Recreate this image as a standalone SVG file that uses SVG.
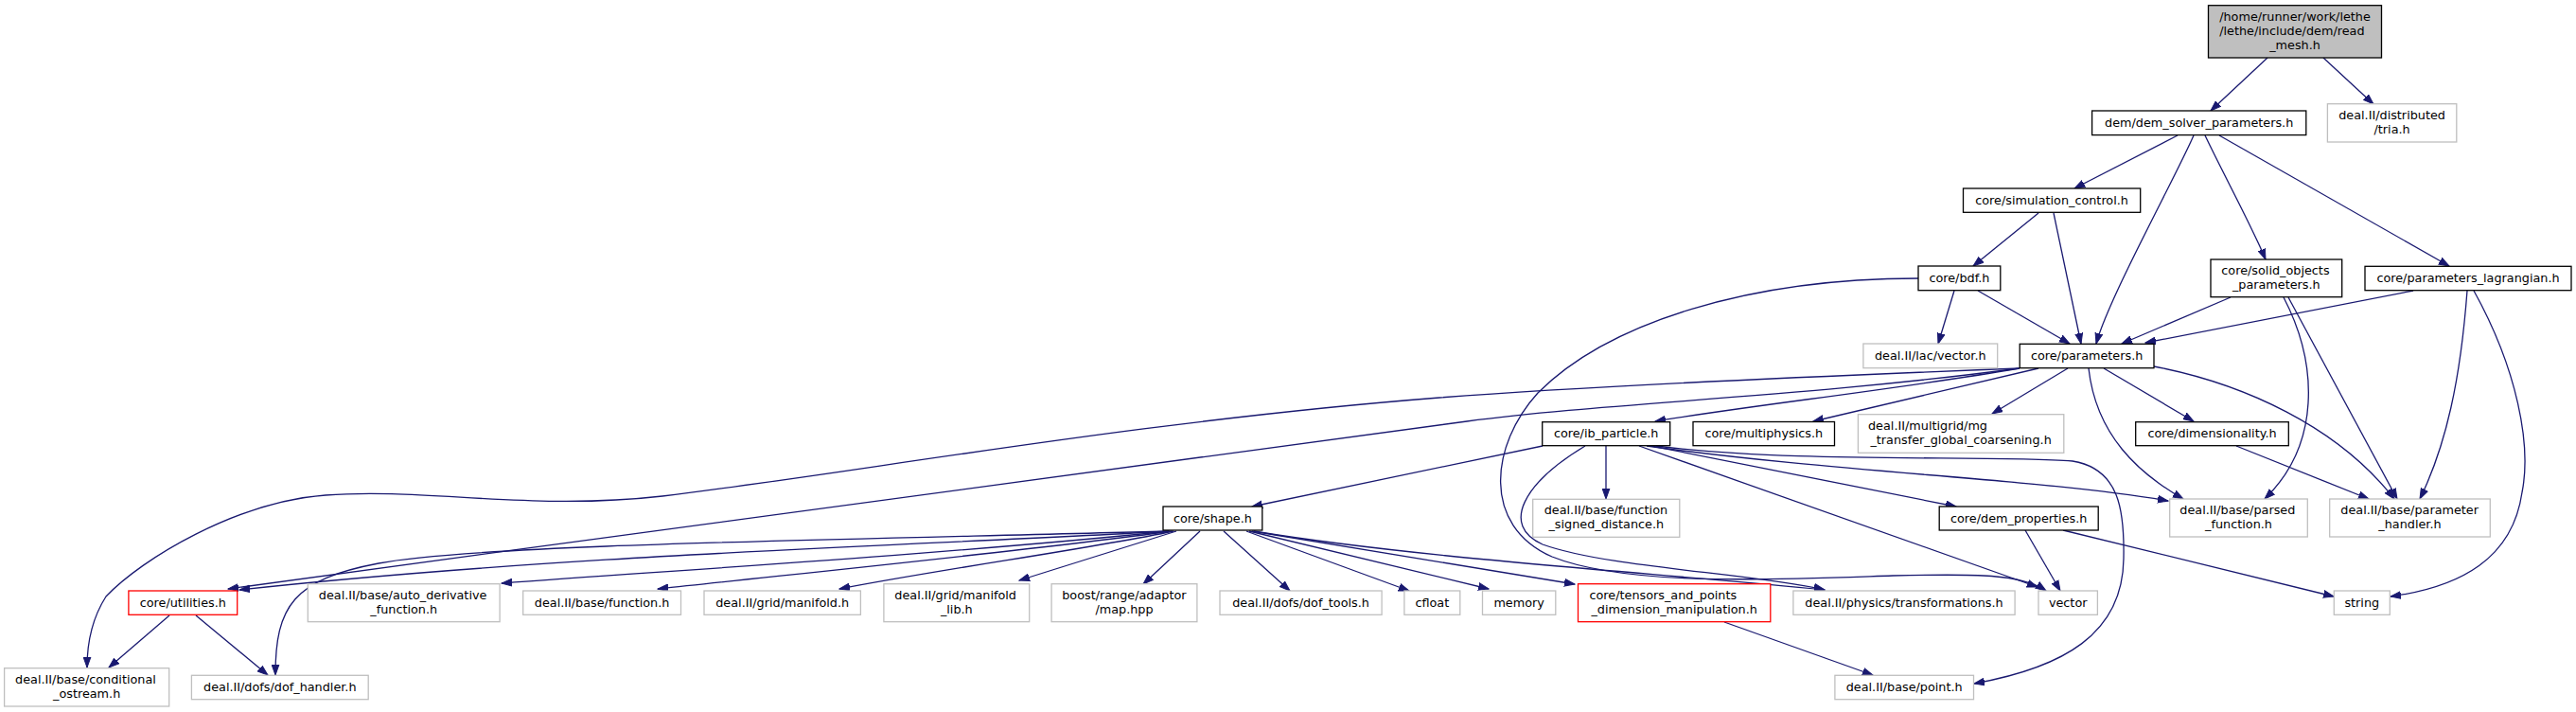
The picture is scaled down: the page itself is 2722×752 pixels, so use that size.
<svg xmlns="http://www.w3.org/2000/svg" width="2722" height="752" viewBox="0 0 2722 752">
<style>
text{font-family:"DejaVu Sans","Liberation Sans",sans-serif;font-size:12.8px;fill:#000}
.c{text-anchor:middle}
.s{text-anchor:start}
rect{stroke-width:1.3}
.doc{fill:#fff;stroke:#000}
.root{fill:#bfbfbf;stroke:#000}
.ext{fill:#fff;stroke:#bfbfbf}
.trunc{fill:#fff;stroke:#ff0000}
#edges path{fill:none;stroke:#191970;stroke-width:1.3}
</style>
<defs>
<marker id="ah" markerUnits="userSpaceOnUse" markerWidth="12" markerHeight="9" viewBox="0 0 12 9" refX="11" refY="4.5" orient="auto">
<path d="M0,0.6 L11,4.5 L0,8.4 Z" fill="#191970" stroke="#191970" stroke-width="1"/>
</marker>
</defs>
<rect width="2722" height="752" fill="#fff"/>
<g id="edges">
<path marker-end="url(#ah)" d="M2396,61 L2336,117"/>
<path marker-end="url(#ah)" d="M2455,61 L2508,110"/>
<path marker-end="url(#ah)" d="M2301,143 L2192,199"/>
<path marker-end="url(#ah)" d="M2318,143 C2300,185 2228,315 2215,363"/>
<path marker-end="url(#ah)" d="M2330,143 C2350,185 2380,240 2394,274"/>
<path marker-end="url(#ah)" d="M2345,143 L2588,281"/>
<path marker-end="url(#ah)" d="M2154,225 L2085,281"/>
<path marker-end="url(#ah)" d="M2170,225 L2199,363"/>
<path marker-end="url(#ah)" d="M2065,307 L2048,363"/>
<path marker-end="url(#ah)" d="M2090,307 L2187,363"/>
<path marker-end="url(#ah)" d="M2027,294 C1850,294 1700,340 1625,415 C1575,470 1565,555 1640,588 C1720,620 1880,612 2000,608 C2090,606 2135,606 2162,624"/>
<path marker-end="url(#ah)" d="M2357,314 L2242,363"/>
<path marker-end="url(#ah)" d="M2413,314 C2450,385 2452,470 2393,527"/>
<path marker-end="url(#ah)" d="M2418,314 L2533,527"/>
<path marker-end="url(#ah)" d="M2550,307 L2267,362"/>
<path marker-end="url(#ah)" d="M2607,307 C2600,400 2585,470 2557,527"/>
<path marker-end="url(#ah)" d="M2614,307 C2660,390 2675,470 2665,520 C2655,590 2600,620 2526,630"/>
<path marker-end="url(#ah)" d="M2134,389 C2000,412 1850,428 1749,445"/>
<path marker-end="url(#ah)" d="M2154,389 L1916,445"/>
<path marker-end="url(#ah)" d="M2185,389 L2105,437"/>
<path marker-end="url(#ah)" d="M2223,389 L2318,445"/>
<path marker-end="url(#ah)" d="M2207,389 C2215,460 2260,500 2307,527"/>
<path marker-end="url(#ah)" d="M2276,387 C2370,405 2470,450 2530,527"/>
<path marker-end="url(#ah)" d="M2134,389 C1900,420 1700,425 1550,445 C1200,490 700,560 241,622"/>
<path marker-end="url(#ah)" d="M2134,389 C1850,400 1650,410 1521,420 C1200,445 900,500 700,524 C560,540 450,515 344,523 C250,530 150,590 112,630 C96,655 92,680 92,705"/>
<path marker-end="url(#ah)" d="M1630,471 L1323,535"/>
<path marker-end="url(#ah)" d="M1697,471 L1697,527"/>
<path marker-end="url(#ah)" d="M1745,471 L2067,535"/>
<path marker-end="url(#ah)" d="M1740,471 C1950,500 2150,505 2291,529"/>
<path marker-end="url(#ah)" d="M1750,471 C1900,490 2100,480 2190,487 C2240,495 2245,540 2244,590 C2243,670 2180,705 2086,722"/>
<path marker-end="url(#ah)" d="M1732,471 L2153,620"/>
<path marker-end="url(#ah)" d="M1675,471 C1610,510 1585,555 1630,575 C1700,600 1850,605 1928,623"/>
<path marker-end="url(#ah)" d="M1268,561 L1208,617"/>
<path marker-end="url(#ah)" d="M1293,561 L1363,624"/>
<path marker-end="url(#ah)" d="M1317,561 L1489,624"/>
<path marker-end="url(#ah)" d="M1320,561 L1573,622"/>
<path marker-end="url(#ah)" d="M1323,561 L1664,617"/>
<path marker-end="url(#ah)" d="M1325,561 C1500,590 1750,605 1928,623"/>
<path marker-end="url(#ah)" d="M1243,561 L1077,613"/>
<path marker-end="url(#ah)" d="M1240,561 C1150,580 1000,600 887,622"/>
<path marker-end="url(#ah)" d="M1238,561 C1100,580 900,600 695,622"/>
<path marker-end="url(#ah)" d="M1236,561 C1000,585 750,600 530,616"/>
<path marker-end="url(#ah)" d="M1235,561 C1000,575 600,585 253,623"/>
<path marker-end="url(#ah)" d="M1235,561 C900,570 500,575 400,595 C310,612 291,640 291,713"/>
<path marker-end="url(#ah)" d="M179,650 L115,705"/>
<path marker-end="url(#ah)" d="M207,650 L283,713"/>
<path marker-end="url(#ah)" d="M1822,657 L1979,713"/>
<path marker-end="url(#ah)" d="M2140,560 L2177,624"/>
<path marker-end="url(#ah)" d="M2180,560 L2466,630"/>
<path marker-end="url(#ah)" d="M2363,471 L2503,527"/>
</g>
<g id="node1"><rect class="root" x="2333.5" y="5.7" width="183" height="55.3"/><text class="s" x="2345.2" y="21.7">/home/runner/work/lethe</text><text class="s" x="2345.2" y="36.7">/lethe/include/dem/read</text><text class="c" x="2425" y="51.5">_mesh.h</text></g>
<g id="node2"><rect class="doc" x="2210.6" y="117" width="226.2" height="25.6"/><text class="c" x="2323.7" y="133.6">dem/dem_solver_parameters.h</text></g>
<g id="node3"><rect class="ext" x="2459.4" y="109.7" width="136.4" height="40.3"/><text class="s" x="2471.2" y="125.5">deal.II/distributed</text><text class="c" x="2527.6" y="140.5">/tria.h</text></g>
<g id="node4"><rect class="doc" x="2074.5" y="199" width="187.2" height="25.3"/><text class="c" x="2168.1" y="215.6">core/simulation_control.h</text></g>
<g id="node5"><rect class="doc" x="2027" y="281" width="86.8" height="25.7"/><text class="c" x="2070.4" y="297.6">core/bdf.h</text></g>
<g id="node6"><rect class="doc" x="2336" y="274" width="138.7" height="39.7"/><text class="s" x="2347.3" y="289.8">core/solid_objects</text><text class="c" x="2405.3" y="304.8">_parameters.h</text></g>
<g id="node7"><rect class="doc" x="2499" y="281.3" width="218" height="25.4"/><text class="c" x="2608" y="297.9">core/parameters_lagrangian.h</text></g>
<g id="node8"><rect class="ext" x="1968.9" y="363" width="141.8" height="25.7"/><text class="c" x="2039.8" y="379.6">deal.II/lac/vector.h</text></g>
<g id="node9"><rect class="doc" x="2134.2" y="363.3" width="141.8" height="25.4"/><text class="c" x="2205.1" y="379.9">core/parameters.h</text></g>
<g id="node10"><rect class="doc" x="1629.7" y="445.7" width="135" height="25"/><text class="c" x="1697.2" y="462.2">core/ib_particle.h</text></g>
<g id="node11"><rect class="doc" x="1789" y="445.5" width="149.5" height="25.2"/><text class="c" x="1863.75" y="462">core/multiphysics.h</text></g>
<g id="node12"><rect class="ext" x="1963.4" y="437.7" width="217.4" height="40.6"/><text class="s" x="1974" y="453.5">deal.II/multigrid/mg</text><text class="c" x="2072.1" y="468.5">_transfer_global_coarsening.h</text></g>
<g id="node13"><rect class="doc" x="2256.7" y="445.7" width="161.6" height="25"/><text class="c" x="2337.5" y="462.2">core/dimensionality.h</text></g>
<g id="node14"><rect class="doc" x="1229" y="535" width="104.8" height="25"/><text class="c" x="1281.4" y="551.5">core/shape.h</text></g>
<g id="node15"><rect class="ext" x="1619.7" y="527.3" width="155.1" height="40"/><text class="s" x="1631.7" y="543">deal.II/base/function</text><text class="c" x="1697.25" y="558">_signed_distance.h</text></g>
<g id="node16"><rect class="doc" x="2049.2" y="535" width="168" height="25"/><text class="c" x="2133.2" y="551.5">core/dem_properties.h</text></g>
<g id="node17"><rect class="ext" x="2292.7" y="527" width="145.6" height="40"/><text class="s" x="2303.3" y="542.7">deal.II/base/parsed</text><text class="c" x="2365.5" y="557.7">_function.h</text></g>
<g id="node18"><rect class="ext" x="2461.7" y="527" width="169.6" height="40"/><text class="s" x="2473.3" y="542.7">deal.II/base/parameter</text><text class="c" x="2546.5" y="557.7">_handler.h</text></g>
<g id="node19"><rect class="trunc" x="135.9" y="624" width="114.8" height="25.3"/><text class="c" x="193.3" y="640.6">core/utilities.h</text></g>
<g id="node20"><rect class="ext" x="325.3" y="616.7" width="202.8" height="40"/><text class="s" x="336.8" y="632.5">deal.II/base/auto_derivative</text><text class="c" x="426.7" y="647.5">_function.h</text></g>
<g id="node21"><rect class="ext" x="552.7" y="624" width="166.8" height="25.3"/><text class="c" x="636.1" y="640.6">deal.II/base/function.h</text></g>
<g id="node22"><rect class="ext" x="744" y="624" width="165.4" height="25.3"/><text class="c" x="826.7" y="640.6">deal.II/grid/manifold.h</text></g>
<g id="node23"><rect class="ext" x="933.9" y="616.7" width="153.8" height="40"/><text class="s" x="945.3" y="632.5">deal.II/grid/manifold</text><text class="c" x="1010.8" y="647.5">_lib.h</text></g>
<g id="node24"><rect class="ext" x="1111.1" y="616.7" width="153.8" height="40"/><text class="s" x="1122.2" y="632.5">boost/range/adaptor</text><text class="c" x="1188" y="647.5">/map.hpp</text></g>
<g id="node25"><rect class="ext" x="1289" y="624" width="171.1" height="25.3"/><text class="c" x="1374.55" y="640.6">deal.II/dofs/dof_tools.h</text></g>
<g id="node26"><rect class="ext" x="1483.9" y="624" width="58.9" height="25.3"/><text class="c" x="1513.35" y="640.6">cfloat</text></g>
<g id="node27"><rect class="ext" x="1566.5" y="624" width="77.3" height="25.3"/><text class="c" x="1605.15" y="640.6">memory</text></g>
<g id="node28"><rect class="trunc" x="1667.5" y="616.7" width="203.3" height="40"/><text class="s" x="1679.5" y="632.5">core/tensors_and_points</text><text class="c" x="1769.15" y="647.5">_dimension_manipulation.h</text></g>
<g id="node29"><rect class="ext" x="1894.9" y="624" width="234.2" height="25.3"/><text class="c" x="2012" y="640.6">deal.II/physics/transformations.h</text></g>
<g id="node30"><rect class="ext" x="2154" y="624" width="62.4" height="25.3"/><text class="c" x="2185.2" y="640.6">vector</text></g>
<g id="node31"><rect class="ext" x="2466.3" y="624" width="59" height="25.3"/><text class="c" x="2495.8" y="640.6">string</text></g>
<g id="node32"><rect class="ext" x="4.6" y="705.7" width="174.1" height="40.3"/><text class="s" x="16.1" y="721.5">deal.II/base/conditional</text><text class="c" x="91.65" y="736.5">_ostream.h</text></g>
<g id="node33"><rect class="ext" x="202.4" y="713.3" width="186.8" height="25.4"/><text class="c" x="295.8" y="729.9">deal.II/dofs/dof_handler.h</text></g>
<g id="node34"><rect class="ext" x="1938.9" y="713.3" width="146.6" height="25.4"/><text class="c" x="2012.2" y="729.9">deal.II/base/point.h</text></g>
</svg>
